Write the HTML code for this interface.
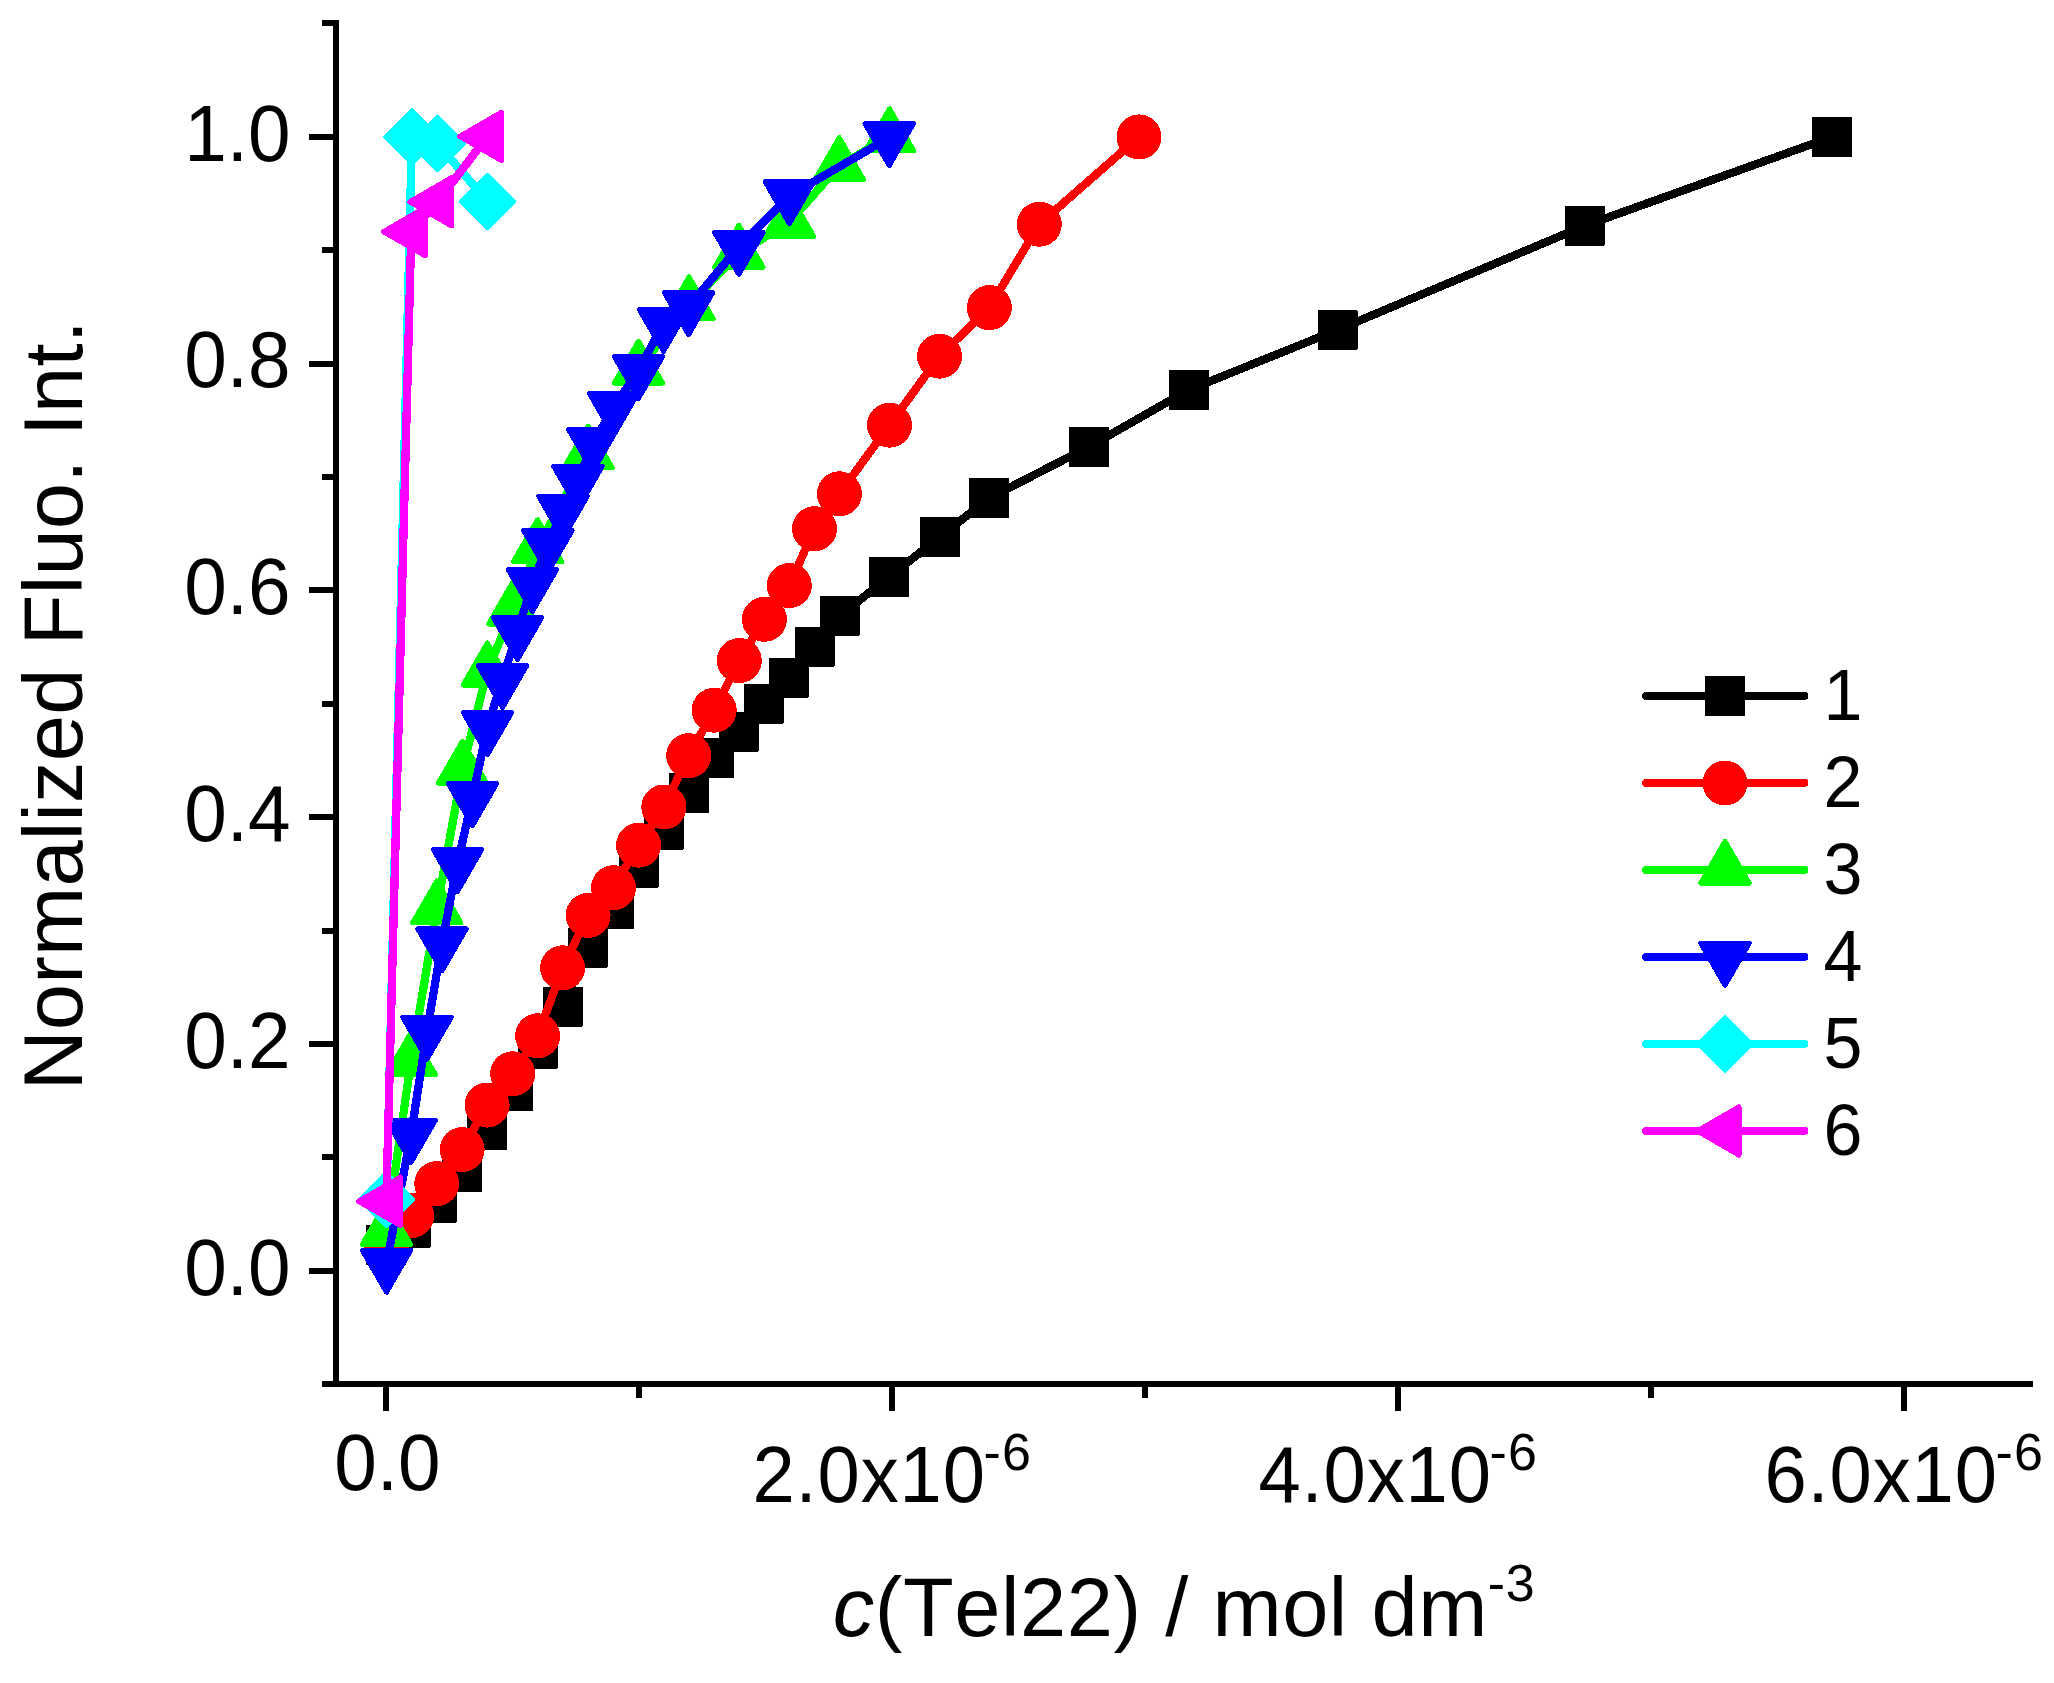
<!DOCTYPE html>
<html lang="en"><head><meta charset="utf-8"><title>Normalized Fluo. Int. vs c(Tel22)</title>
<style>html,body{margin:0;padding:0;background:#fff;}body{width:2054px;height:1683px;overflow:hidden;}svg{display:block;}text{font-family:"Liberation Sans",Arial,Helvetica,sans-serif;fill:#000;font-kerning:none;}.tk{font-size:76.5px;}.tkm{font-size:76px;letter-spacing:0.86px;}.sup{font-size:52px;letter-spacing:1.2px;}.ttl{font-size:83px;}.tsup{font-size:52px;}.lg{font-size:70px;}</style></head><body>
<svg width="2054" height="1683" viewBox="0 0 2054 1683">
<rect x="0" y="0" width="2054" height="1683" fill="#ffffff"/>
<g shape-rendering="crispEdges">
<polyline points="386.1,1245.2 410.9,1227.5 436.8,1202.5 461.8,1172.2 486.7,1130.3 512.7,1091.3 537.6,1049.2 563,1006.5 587.6,947.6 613.9,909.4 638.8,867.5 663.8,829.6 688.9,793.3 713.9,758.3 738.9,731.7 763.9,703.6 788.8,677.6 814.5,646.7 839.7,615.8 889,577.1 939.9,536.9 989,498.3 1089,446.7 1188.9,389.8 1337.5,329.9 1584.9,225.7 1832,136.9" fill="none" stroke="#000000" stroke-width="8.3" stroke-linejoin="round" stroke-linecap="round"/>
<rect x="367.1" y="1226.2" width="38" height="38" fill="#000000" stroke="#000000" stroke-width="2" stroke-linejoin="round"/>
<rect x="391.9" y="1208.5" width="38" height="38" fill="#000000" stroke="#000000" stroke-width="2" stroke-linejoin="round"/>
<rect x="417.8" y="1183.5" width="38" height="38" fill="#000000" stroke="#000000" stroke-width="2" stroke-linejoin="round"/>
<rect x="442.8" y="1153.2" width="38" height="38" fill="#000000" stroke="#000000" stroke-width="2" stroke-linejoin="round"/>
<rect x="467.7" y="1111.3" width="38" height="38" fill="#000000" stroke="#000000" stroke-width="2" stroke-linejoin="round"/>
<rect x="493.7" y="1072.3" width="38" height="38" fill="#000000" stroke="#000000" stroke-width="2" stroke-linejoin="round"/>
<rect x="518.6" y="1030.2" width="38" height="38" fill="#000000" stroke="#000000" stroke-width="2" stroke-linejoin="round"/>
<rect x="544" y="987.5" width="38" height="38" fill="#000000" stroke="#000000" stroke-width="2" stroke-linejoin="round"/>
<rect x="568.6" y="928.6" width="38" height="38" fill="#000000" stroke="#000000" stroke-width="2" stroke-linejoin="round"/>
<rect x="594.9" y="890.4" width="38" height="38" fill="#000000" stroke="#000000" stroke-width="2" stroke-linejoin="round"/>
<rect x="619.8" y="848.5" width="38" height="38" fill="#000000" stroke="#000000" stroke-width="2" stroke-linejoin="round"/>
<rect x="644.8" y="810.6" width="38" height="38" fill="#000000" stroke="#000000" stroke-width="2" stroke-linejoin="round"/>
<rect x="669.9" y="774.3" width="38" height="38" fill="#000000" stroke="#000000" stroke-width="2" stroke-linejoin="round"/>
<rect x="694.9" y="739.3" width="38" height="38" fill="#000000" stroke="#000000" stroke-width="2" stroke-linejoin="round"/>
<rect x="719.9" y="712.7" width="38" height="38" fill="#000000" stroke="#000000" stroke-width="2" stroke-linejoin="round"/>
<rect x="744.9" y="684.6" width="38" height="38" fill="#000000" stroke="#000000" stroke-width="2" stroke-linejoin="round"/>
<rect x="769.8" y="658.6" width="38" height="38" fill="#000000" stroke="#000000" stroke-width="2" stroke-linejoin="round"/>
<rect x="795.5" y="627.7" width="38" height="38" fill="#000000" stroke="#000000" stroke-width="2" stroke-linejoin="round"/>
<rect x="820.7" y="596.8" width="38" height="38" fill="#000000" stroke="#000000" stroke-width="2" stroke-linejoin="round"/>
<rect x="870" y="558.1" width="38" height="38" fill="#000000" stroke="#000000" stroke-width="2" stroke-linejoin="round"/>
<rect x="920.9" y="517.9" width="38" height="38" fill="#000000" stroke="#000000" stroke-width="2" stroke-linejoin="round"/>
<rect x="970" y="479.3" width="38" height="38" fill="#000000" stroke="#000000" stroke-width="2" stroke-linejoin="round"/>
<rect x="1070" y="427.7" width="38" height="38" fill="#000000" stroke="#000000" stroke-width="2" stroke-linejoin="round"/>
<rect x="1169.9" y="370.8" width="38" height="38" fill="#000000" stroke="#000000" stroke-width="2" stroke-linejoin="round"/>
<rect x="1318.5" y="310.9" width="38" height="38" fill="#000000" stroke="#000000" stroke-width="2" stroke-linejoin="round"/>
<rect x="1565.9" y="206.7" width="38" height="38" fill="#000000" stroke="#000000" stroke-width="2" stroke-linejoin="round"/>
<rect x="1813" y="117.9" width="38" height="38" fill="#000000" stroke="#000000" stroke-width="2" stroke-linejoin="round"/>
</g>
<g shape-rendering="crispEdges">
<polyline points="386.4,1247.6 411.7,1215.4 436.8,1183.6 462.2,1149.6 487.1,1105.1 512.7,1073.8 537.6,1035.8 562.6,967.8 588.1,915.4 613.5,887.7 638.6,845.2 663.8,807 688.7,755.7 714.2,710.2 739.3,660.6 764.4,619.3 789.3,585.6 814.5,528.7 839.4,493.8 889.5,425.2 939.5,356.2 989.4,307.6 1039.3,224.2 1139,136.9" fill="none" stroke="#ff0000" stroke-width="8.3" stroke-linejoin="round" stroke-linecap="round"/>
<circle cx="386.4" cy="1247.6" r="22.5" fill="#ff0000"/>
<circle cx="411.7" cy="1215.4" r="22.5" fill="#ff0000"/>
<circle cx="436.8" cy="1183.6" r="22.5" fill="#ff0000"/>
<circle cx="462.2" cy="1149.6" r="22.5" fill="#ff0000"/>
<circle cx="487.1" cy="1105.1" r="22.5" fill="#ff0000"/>
<circle cx="512.7" cy="1073.8" r="22.5" fill="#ff0000"/>
<circle cx="537.6" cy="1035.8" r="22.5" fill="#ff0000"/>
<circle cx="562.6" cy="967.8" r="22.5" fill="#ff0000"/>
<circle cx="588.1" cy="915.4" r="22.5" fill="#ff0000"/>
<circle cx="613.5" cy="887.7" r="22.5" fill="#ff0000"/>
<circle cx="638.6" cy="845.2" r="22.5" fill="#ff0000"/>
<circle cx="663.8" cy="807" r="22.5" fill="#ff0000"/>
<circle cx="688.7" cy="755.7" r="22.5" fill="#ff0000"/>
<circle cx="714.2" cy="710.2" r="22.5" fill="#ff0000"/>
<circle cx="739.3" cy="660.6" r="22.5" fill="#ff0000"/>
<circle cx="764.4" cy="619.3" r="22.5" fill="#ff0000"/>
<circle cx="789.3" cy="585.6" r="22.5" fill="#ff0000"/>
<circle cx="814.5" cy="528.7" r="22.5" fill="#ff0000"/>
<circle cx="839.4" cy="493.8" r="22.5" fill="#ff0000"/>
<circle cx="889.5" cy="425.2" r="22.5" fill="#ff0000"/>
<circle cx="939.5" cy="356.2" r="22.5" fill="#ff0000"/>
<circle cx="989.4" cy="307.6" r="22.5" fill="#ff0000"/>
<circle cx="1039.3" cy="224.2" r="22.5" fill="#ff0000"/>
<circle cx="1139" cy="136.9" r="22.5" fill="#ff0000"/>
</g>
<g shape-rendering="crispEdges">
<polyline points="386.5,1230.6 411.1,1060.4 436.8,908.9 462.5,769.1 487.3,671 512.8,610 537.6,547.6 588.1,453.9 638.5,369.1 689,304.8 738.9,253.2 789.4,222.2 839.3,165.6 889.5,136.8" fill="none" stroke="#00ff00" stroke-width="8.3" stroke-linejoin="round" stroke-linecap="round"/>
<polygon points="386.5,1202.7 362.3,1244.5 410.7,1244.5" fill="#00ff00" stroke="#00ff00" stroke-width="5" stroke-linejoin="round"/>
<polygon points="411.1,1032.5 386.9,1074.3 435.3,1074.3" fill="#00ff00" stroke="#00ff00" stroke-width="5" stroke-linejoin="round"/>
<polygon points="436.8,881 412.6,922.9 461,922.9" fill="#00ff00" stroke="#00ff00" stroke-width="5" stroke-linejoin="round"/>
<polygon points="462.5,741.2 438.3,783.1 486.7,783.1" fill="#00ff00" stroke="#00ff00" stroke-width="5" stroke-linejoin="round"/>
<polygon points="487.3,643.1 463.1,685 511.5,685" fill="#00ff00" stroke="#00ff00" stroke-width="5" stroke-linejoin="round"/>
<polygon points="512.8,582.1 488.6,624 537,624" fill="#00ff00" stroke="#00ff00" stroke-width="5" stroke-linejoin="round"/>
<polygon points="537.6,519.8 513.4,561.6 561.8,561.6" fill="#00ff00" stroke="#00ff00" stroke-width="5" stroke-linejoin="round"/>
<polygon points="588.1,426.1 563.9,467.9 612.3,467.9" fill="#00ff00" stroke="#00ff00" stroke-width="5" stroke-linejoin="round"/>
<polygon points="638.5,341.2 614.3,383.1 662.7,383.1" fill="#00ff00" stroke="#00ff00" stroke-width="5" stroke-linejoin="round"/>
<polygon points="689,276.9 664.8,318.7 713.2,318.7" fill="#00ff00" stroke="#00ff00" stroke-width="5" stroke-linejoin="round"/>
<polygon points="738.9,225.3 714.7,267.2 763.1,267.2" fill="#00ff00" stroke="#00ff00" stroke-width="5" stroke-linejoin="round"/>
<polygon points="789.4,194.3 765.2,236.2 813.6,236.2" fill="#00ff00" stroke="#00ff00" stroke-width="5" stroke-linejoin="round"/>
<polygon points="839.3,137.7 815.1,179.5 863.5,179.5" fill="#00ff00" stroke="#00ff00" stroke-width="5" stroke-linejoin="round"/>
<polygon points="889.5,108.8 865.3,150.7 913.7,150.7" fill="#00ff00" stroke="#00ff00" stroke-width="5" stroke-linejoin="round"/>
</g>
<g shape-rendering="crispEdges">
<polyline points="386.5,1264.2 411.1,1134.4 427,1031.3 442,942.9 457.5,863.5 472.5,797.6 487.5,726.6 502.5,679.6 517.5,631.6 532.4,583.6 547.9,544.6 563,510.5 578,480.6 592.8,443.5 613.6,407.5 638.5,370.5 663.5,323.6 688.6,306.7 738.9,246.5 789.4,195.8 889.2,137.7" fill="none" stroke="#0000ff" stroke-width="8.3" stroke-linejoin="round" stroke-linecap="round"/>
<polygon points="386.5,1292.2 362.3,1250.3 410.7,1250.3" fill="#0000ff" stroke="#0000ff" stroke-width="5" stroke-linejoin="round"/>
<polygon points="411.1,1162.3 386.9,1120.5 435.3,1120.5" fill="#0000ff" stroke="#0000ff" stroke-width="5" stroke-linejoin="round"/>
<polygon points="427,1059.2 402.8,1017.4 451.2,1017.4" fill="#0000ff" stroke="#0000ff" stroke-width="5" stroke-linejoin="round"/>
<polygon points="442,970.8 417.8,928.9 466.2,928.9" fill="#0000ff" stroke="#0000ff" stroke-width="5" stroke-linejoin="round"/>
<polygon points="457.5,891.4 433.3,849.5 481.7,849.5" fill="#0000ff" stroke="#0000ff" stroke-width="5" stroke-linejoin="round"/>
<polygon points="472.5,825.5 448.3,783.6 496.7,783.6" fill="#0000ff" stroke="#0000ff" stroke-width="5" stroke-linejoin="round"/>
<polygon points="487.5,754.5 463.3,712.6 511.7,712.6" fill="#0000ff" stroke="#0000ff" stroke-width="5" stroke-linejoin="round"/>
<polygon points="502.5,707.5 478.3,665.7 526.7,665.7" fill="#0000ff" stroke="#0000ff" stroke-width="5" stroke-linejoin="round"/>
<polygon points="517.5,659.5 493.3,617.6 541.7,617.6" fill="#0000ff" stroke="#0000ff" stroke-width="5" stroke-linejoin="round"/>
<polygon points="532.4,611.5 508.2,569.7 556.6,569.7" fill="#0000ff" stroke="#0000ff" stroke-width="5" stroke-linejoin="round"/>
<polygon points="547.9,572.5 523.7,530.6 572.1,530.6" fill="#0000ff" stroke="#0000ff" stroke-width="5" stroke-linejoin="round"/>
<polygon points="563,538.4 538.8,496.5 587.2,496.5" fill="#0000ff" stroke="#0000ff" stroke-width="5" stroke-linejoin="round"/>
<polygon points="578,508.4 553.8,466.6 602.2,466.6" fill="#0000ff" stroke="#0000ff" stroke-width="5" stroke-linejoin="round"/>
<polygon points="592.8,471.4 568.6,429.5 617,429.5" fill="#0000ff" stroke="#0000ff" stroke-width="5" stroke-linejoin="round"/>
<polygon points="613.6,435.4 589.4,393.5 637.8,393.5" fill="#0000ff" stroke="#0000ff" stroke-width="5" stroke-linejoin="round"/>
<polygon points="638.5,398.4 614.3,356.5 662.7,356.5" fill="#0000ff" stroke="#0000ff" stroke-width="5" stroke-linejoin="round"/>
<polygon points="663.5,351.4 639.3,309.6 687.7,309.6" fill="#0000ff" stroke="#0000ff" stroke-width="5" stroke-linejoin="round"/>
<polygon points="688.6,334.6 664.4,292.7 712.8,292.7" fill="#0000ff" stroke="#0000ff" stroke-width="5" stroke-linejoin="round"/>
<polygon points="738.9,274.4 714.7,232.6 763.1,232.6" fill="#0000ff" stroke="#0000ff" stroke-width="5" stroke-linejoin="round"/>
<polygon points="789.4,223.8 765.2,181.9 813.6,181.9" fill="#0000ff" stroke="#0000ff" stroke-width="5" stroke-linejoin="round"/>
<polygon points="889.2,165.6 865,123.7 913.4,123.7" fill="#0000ff" stroke="#0000ff" stroke-width="5" stroke-linejoin="round"/>
</g>
<g shape-rendering="crispEdges">
<polyline points="386.5,1199.5 411.9,136.9 437.3,143.5 487.5,201.4" fill="none" stroke="#00ffff" stroke-width="8.3" stroke-linejoin="round" stroke-linecap="round"/>
<polygon points="386.5,1173.4 412.6,1199.5 386.5,1225.6 360.4,1199.5" fill="#00ffff" stroke="#00ffff" stroke-width="5" stroke-linejoin="round"/>
<polygon points="411.9,110.8 438,136.9 411.9,163 385.8,136.9" fill="#00ffff" stroke="#00ffff" stroke-width="5" stroke-linejoin="round"/>
<polygon points="437.3,117.4 463.4,143.5 437.3,169.6 411.2,143.5" fill="#00ffff" stroke="#00ffff" stroke-width="5" stroke-linejoin="round"/>
<polygon points="487.5,175.3 513.6,201.4 487.5,227.5 461.4,201.4" fill="#00ffff" stroke="#00ffff" stroke-width="5" stroke-linejoin="round"/>
</g>
<g shape-rendering="crispEdges">
<polyline points="386.3,1201.3 411.3,231.7 437.6,201.8 487.5,136.4" fill="none" stroke="#ff00ff" stroke-width="8.3" stroke-linejoin="round" stroke-linecap="round"/>
<polygon points="358.4,1201.3 400.3,1177.1 400.3,1225.5" fill="#ff00ff" stroke="#ff00ff" stroke-width="5" stroke-linejoin="round"/>
<polygon points="383.4,231.7 425.3,207.5 425.3,255.9" fill="#ff00ff" stroke="#ff00ff" stroke-width="5" stroke-linejoin="round"/>
<polygon points="409.8,201.8 451.6,177.6 451.6,226" fill="#ff00ff" stroke="#ff00ff" stroke-width="5" stroke-linejoin="round"/>
<polygon points="459.6,136.4 501.5,112.2 501.5,160.6" fill="#ff00ff" stroke="#ff00ff" stroke-width="5" stroke-linejoin="round"/>
</g>
<g fill="#000" shape-rendering="crispEdges">
<rect x="333" y="20.4" width="6" height="1366.6"/>
<rect x="333" y="1381" width="1699.5" height="6"/>
<rect x="321.5" y="1381.2" width="12.5" height="6"/>
<rect x="309" y="1267.8" width="25" height="6"/>
<rect x="321.5" y="1154.4" width="12.5" height="6"/>
<rect x="309" y="1041" width="25" height="6"/>
<rect x="321.5" y="927.6" width="12.5" height="6"/>
<rect x="309" y="814.2" width="25" height="6"/>
<rect x="321.5" y="700.8" width="12.5" height="6"/>
<rect x="309" y="587.4" width="25" height="6"/>
<rect x="321.5" y="474" width="12.5" height="6"/>
<rect x="309" y="360.6" width="25" height="6"/>
<rect x="321.5" y="247.2" width="12.5" height="6"/>
<rect x="309" y="133.8" width="25" height="6"/>
<rect x="321.5" y="20.4" width="12.5" height="6"/>
<rect x="383" y="1386" width="6" height="25"/>
<rect x="636" y="1386" width="6" height="12"/>
<rect x="889" y="1386" width="6" height="25"/>
<rect x="1142" y="1386" width="6" height="12"/>
<rect x="1395" y="1386" width="6" height="25"/>
<rect x="1648" y="1386" width="6" height="12"/>
<rect x="1901" y="1386" width="6" height="25"/>
</g>
<text class="tk" transform="translate(290.5,1294.6) scale(1,1.04)" text-anchor="end">0.0</text>
<text class="tk" transform="translate(290.5,1067.8) scale(1,1.04)" text-anchor="end">0.2</text>
<text class="tk" transform="translate(290.5,841) scale(1,1.04)" text-anchor="end">0.4</text>
<text class="tk" transform="translate(290.5,614.2) scale(1,1.04)" text-anchor="end">0.6</text>
<text class="tk" transform="translate(290.5,387.4) scale(1,1.04)" text-anchor="end">0.8</text>
<text class="tk" transform="translate(290.5,160.6) scale(1,1.04)" text-anchor="end">1.0</text>
<text class="tk" transform="translate(387.3,1490.3) scale(1,1.04)" text-anchor="middle">0.0</text>
<text class="tkm" transform="translate(752.5,1502.3) scale(1,1.04)">2.0x10</text>
<text class="sup" x="983.5" y="1469.8">-6</text>
<text class="tkm" transform="translate(1258.5,1502.3) scale(1,1.04)">4.0x10</text>
<text class="sup" x="1489.5" y="1469.8">-6</text>
<text class="tkm" transform="translate(1764.5,1502.3) scale(1,1.04)">6.0x10</text>
<text class="sup" x="1995.5" y="1469.8">-6</text>
<text class="ttl" x="1184" y="1635.5" text-anchor="middle" letter-spacing="0.55"><tspan font-style="italic">c</tspan>(Tel22) / mol dm<tspan class="tsup" dy="-35">-3</tspan></text>
<text class="ttl" transform="translate(82.3,705.2) rotate(-90)" text-anchor="middle" letter-spacing="0.22">Normalized Fluo. Int.</text>
<g shape-rendering="crispEdges">
<line x1="1645.8" y1="696" x2="1804.4" y2="696" stroke="#000000" stroke-width="8.3" stroke-linecap="round"/>
<rect x="1706" y="677" width="38" height="38" fill="#000000" stroke="#000000" stroke-width="2" stroke-linejoin="round"/>
<text class="lg" transform="translate(1823.5,720) scale(1,1.04)">1</text>
</g>
<g shape-rendering="crispEdges">
<line x1="1645.8" y1="783" x2="1804.4" y2="783" stroke="#ff0000" stroke-width="8.3" stroke-linecap="round"/>
<circle cx="1725" cy="783" r="22.5" fill="#ff0000"/>
<text class="lg" transform="translate(1823.5,807) scale(1,1.04)">2</text>
</g>
<g shape-rendering="crispEdges">
<line x1="1645.8" y1="870" x2="1804.4" y2="870" stroke="#00ff00" stroke-width="8.3" stroke-linecap="round"/>
<polygon points="1725,841.4 1700.8,883.2 1749.2,883.2" fill="#00ff00" stroke="#00ff00" stroke-width="5" stroke-linejoin="round"/>
<text class="lg" transform="translate(1823.5,894) scale(1,1.04)">3</text>
</g>
<g shape-rendering="crispEdges">
<line x1="1645.8" y1="957" x2="1804.4" y2="957" stroke="#0000ff" stroke-width="8.3" stroke-linecap="round"/>
<polygon points="1725,985.3 1700.8,943.4 1749.2,943.4" fill="#0000ff" stroke="#0000ff" stroke-width="5" stroke-linejoin="round"/>
<text class="lg" transform="translate(1823.5,981) scale(1,1.04)">4</text>
</g>
<g shape-rendering="crispEdges">
<line x1="1645.8" y1="1044" x2="1804.4" y2="1044" stroke="#00ffff" stroke-width="8.3" stroke-linecap="round"/>
<polygon points="1725,1017.9 1751.1,1044 1725,1070.1 1698.9,1044" fill="#00ffff" stroke="#00ffff" stroke-width="5" stroke-linejoin="round"/>
<text class="lg" transform="translate(1823.5,1068) scale(1,1.04)">5</text>
</g>
<g shape-rendering="crispEdges">
<line x1="1645.8" y1="1131" x2="1804.4" y2="1131" stroke="#ff00ff" stroke-width="8.3" stroke-linecap="round"/>
<polygon points="1697.1,1131 1739,1106.8 1739,1155.2" fill="#ff00ff" stroke="#ff00ff" stroke-width="5" stroke-linejoin="round"/>
<text class="lg" transform="translate(1823.5,1155) scale(1,1.04)">6</text>
</g>
</svg></body></html>
